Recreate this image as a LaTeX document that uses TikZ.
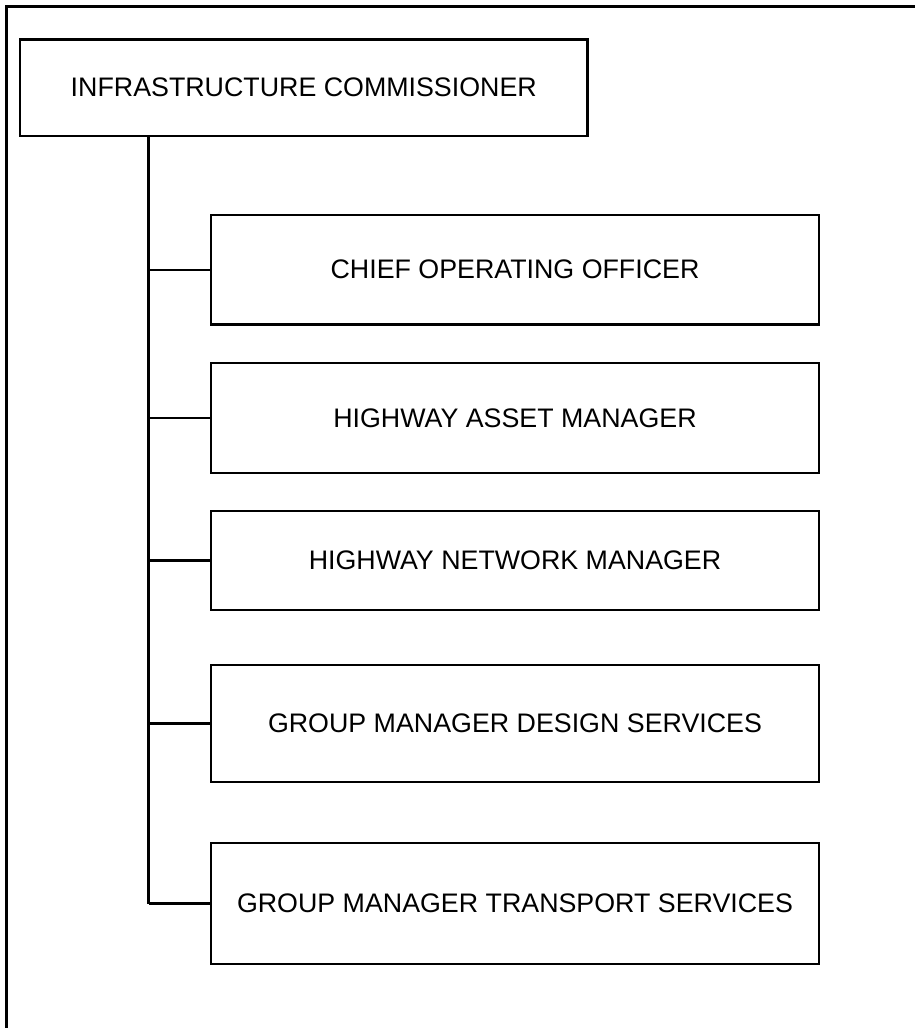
\documentclass[tikz,border=0pt]{standalone}
\usepackage{fontspec}
\setmainfont{Liberation Sans}
\tikzset{
  orgbox/.style={draw, line width=1.25pt, rectangle, inner sep=0pt, outer sep=0pt,
    font=\fontsize{13.4}{15}\selectfont, align=center},
  wire/.style={line width=1.25pt},
  frame/.style={line width=1.6pt}
}
\begin{document}
\begin{tikzpicture}[x=0.5pt,y=-0.5pt]
\useasboundingbox (0,0) rectangle (915,1028);
% outer frame (top and left edges only visible)
\coordinate (fTL) at (6.5,6.5);
\coordinate (fTR) at (915,6.5);
\coordinate (fBL) at (6.5,1028);
\draw[frame] (fTR) -- (fTL) -- (fBL);
% boxes
\node[orgbox, minimum width=283.75pt, minimum height=48.25pt] (top) at (303.75,87.75) {INFRASTRUCTURE COMMISSIONER};
\node[orgbox, minimum width=304pt, minimum height=54.75pt] (c1) at (515,269.75) {CHIEF OPERATING OFFICER};
\node[orgbox, minimum width=304pt, minimum height=55pt] (c2) at (515,418) {HIGHWAY ASSET MANAGER};
\node[orgbox, minimum width=304pt, minimum height=49.5pt] (c3) at (515,560.5) {HIGHWAY NETWORK MANAGER};
\node[orgbox, minimum width=304pt, minimum height=58.5pt] (c4) at (515,723.5) {GROUP MANAGER DESIGN SERVICES};
\node[orgbox, minimum width=304pt, minimum height=60.5pt] (c5) at (515,903.5) {GROUP MANAGER TRANSPORT SERVICES};
% trunk
\coordinate (tx) at (148.5,0);
\draw[wire] (top.south -| tx) -- (c5.west -| tx);
\foreach \n in {c1,c2,c3,c4,c5}{
  \draw[wire] (\n.west -| tx) -- (\n.west);
}
\end{tikzpicture}
\end{document}
